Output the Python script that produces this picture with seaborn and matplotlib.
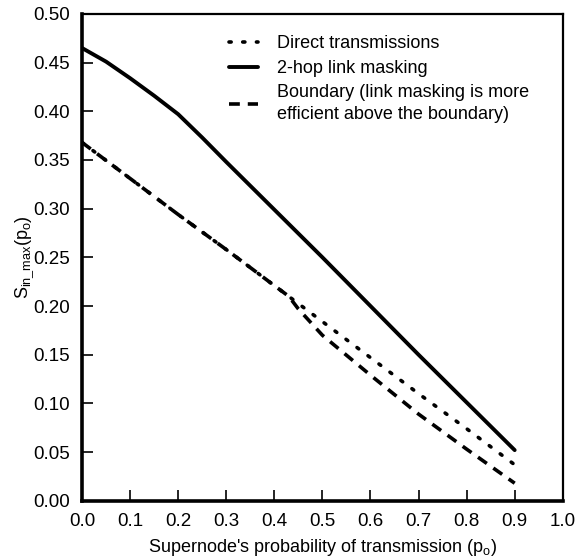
import matplotlib
matplotlib.use("Agg")
import matplotlib.pyplot as plt
import seaborn as sns
import pandas as pd

sns.set_theme(style="white")
plt.rcParams["font.family"] = ["Liberation Sans", "DejaVu Sans"]
plt.rcParams["mathtext.fontset"] = "custom"
plt.rcParams["mathtext.rm"] = "Liberation Sans"
plt.rcParams["mathtext.it"] = "Liberation Sans"

# Supernode transmission probability p_o
p_direct = [0.0, 0.1, 0.2, 0.3, 0.4, 0.5, 0.6, 0.7, 0.8, 0.9]
s_direct = [0.368, 0.331, 0.294, 0.258, 0.221, 0.184, 0.147, 0.110, 0.074, 0.037]

p_mask = [0.0, 0.05, 0.1, 0.15, 0.2, 0.25, 0.3, 0.4, 0.5, 0.6, 0.7, 0.8, 0.9]
s_mask = [0.465, 0.451, 0.434, 0.416, 0.397, 0.373, 0.348, 0.299, 0.250, 0.200,
          0.150, 0.101, 0.052]

p_bound = [0.0, 0.1, 0.2, 0.3, 0.4, 0.43, 0.45, 0.5, 0.6, 0.7, 0.8, 0.9]
s_bound = [0.368, 0.331, 0.294, 0.258, 0.221, 0.210, 0.197, 0.170, 0.129, 0.089, 0.053, 0.018]

labels = ["Direct transmissions", "2-hop link masking",
          "Boundary (link masking is more\nefficient above the boundary)"]

df = pd.concat([
    pd.DataFrame({"p": p_direct, "s": s_direct, "curve": labels[0]}),
    pd.DataFrame({"p": p_mask, "s": s_mask, "curve": labels[1]}),
    pd.DataFrame({"p": p_bound, "s": s_bound, "curve": labels[2]}),
])

fig = plt.figure(figsize=(5.76, 5.57), dpi=100)
ax = fig.add_axes([0.1424, 0.101, 0.8346, 0.874])

styles = {
    labels[0]: dict(ls=(0, (0.6, 3.2)), lw=2.6, dash_capstyle="round"),
    labels[1]: dict(ls="-", lw=2.8),
    labels[2]: dict(ls=(0, (3.0, 2.2)), lw=2.6),
}
for lab in labels:
    sub = df[df["curve"] == lab]
    sns.lineplot(data=sub, x="p", y="s", ax=ax, color="black", label=lab,
                 **styles[lab])

ax.set_xlim(0, 1.0)
ax.set_ylim(0, 0.50)
ax.set_xticks([i / 10 for i in range(11)])
ax.set_xticklabels([f"{i / 10:.1f}" for i in range(11)])
ax.set_yticks([i * 0.05 for i in range(11)])
ax.set_yticklabels([f"{i * 0.05:.2f}" for i in range(11)])
ax.tick_params(axis="both", direction="in", length=8, width=1.2,
               labelsize=13.5, colors="black")
ax.tick_params(axis="y", pad=9)
ax.tick_params(axis="x", pad=9)
ax.tick_params(axis="both", which="both", bottom=True, left=True,
               top=False, right=False)

for side in ["left", "bottom", "right", "top"]:
    ax.spines[side].set_color("black")
ax.spines["left"].set_linewidth(2.6)
ax.spines["bottom"].set_linewidth(2.6)
ax.spines["right"].set_linewidth(1.6)
ax.spines["top"].set_linewidth(1.6)

ax.set_xlabel(r"Supernode's probability of transmission (p$_{\mathrm{o}}$)",
              fontsize=13, color="black", labelpad=5)
ax.set_ylabel(r"S$_{\mathrm{in\_max}}$(p$_{\mathrm{o}}$)",
              fontsize=13, color="black", labelpad=-2)

leg = ax.legend(loc="upper left", bbox_to_anchor=(0.29, 0.971), frameon=False,
                fontsize=13, handlelength=1.65, handletextpad=1.0,
                labelspacing=0.42, borderaxespad=0)
for t in leg.get_texts():
    t.set_color("black")
    t.set_linespacing(1.35)

fig.savefig("out.png", dpi=100, facecolor="white")
